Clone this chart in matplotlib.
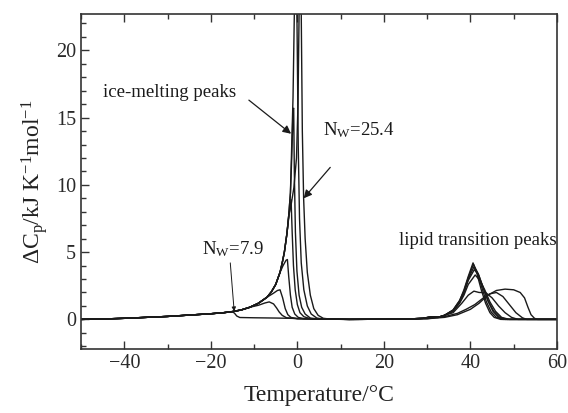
import matplotlib
matplotlib.use("Agg")
import matplotlib.pyplot as plt
from matplotlib.ticker import MultipleLocator

plt.rcParams['font.family'] = ['Liberation Serif', 'DejaVu Serif']
plt.rcParams['mathtext.fontset'] = 'custom'
plt.rcParams['mathtext.rm'] = 'Liberation Serif'
plt.rcParams['mathtext.it'] = 'Liberation Serif:italic'

# ---- shared low-temperature envelope (ice pre-melting tail) ----
env_T = [-50, -45, -40, -35, -30, -25, -20, -17, -15, -13, -11, -9, -7, -6, -5, -4, -3.5, -3, -2.4, -2, -1.6, -1.3, -1.0]
env_Cp = [0, 0.03, 0.08, 0.15, 0.22, 0.32, 0.42, 0.5, 0.58, 0.7, 0.9, 1.2, 1.65, 2.05, 2.6, 3.5, 4.2, 5.0, 6.4, 7.7, 9.4, 12.0, 15.6]

# ---- ice-melting branch of each sample (increasing water content) ----
# point index where each curve leaves the envelope
ice_split = [9, 11, 13, 16, 19, 23, 21, 20]
ice1_T = [-14.5, -14, -13.3, -10, -5, 0, 5, 10]
ice1_Cp = [0.45, 0.25, 0.14, 0.12, 0.1, 0.07, 0.03, 0]
ice2_T = [-9, -7.5, -6.5, -5.5, -4.8, -4.2, -3.5, -2.5, 0, 5, 10]
ice2_Cp = [1.05, 1.22, 1.3, 1.15, 0.85, 0.55, 0.3, 0.12, 0.05, 0.02, 0]
ice3_T = [-5.5, -4.6, -4.0, -3.4, -2.8, -2.2, -1.5, 0, 10]
ice3_Cp = [1.95, 2.15, 2.2, 1.6, 0.8, 0.35, 0.15, 0.05, 0]
ice4_T = [-3.3, -2.6, -2.3, -2.0, -1.6, -1.2, -0.6, 0.2, 1.5, 10]
ice4_Cp = [4.0, 4.4, 4.45, 3.2, 1.8, 0.9, 0.4, 0.15, 0.05, 0]
ice5_T = [-1.9, -1.45, -1.2, -0.9, -0.5, 0, 0.6, 1.5, 3, 10]
ice5_Cp = [7.8, 8.9, 6.5, 4.0, 2.2, 1.1, 0.5, 0.2, 0.05, 0]
ice6_T = [-0.85, -0.7, -0.45, -0.1, 0.4, 1.0, 1.8, 3, 5, 10]
ice6_Cp = [15.7, 11, 6.5, 3.6, 1.8, 0.9, 0.4, 0.1, 0.02, 0]
ice7_T = [-1.0, -0.7, -0.4, -0.1, 0.2, 0.5, 0.9, 1.5, 2.3, 3.2, 4.5, 6, 10]
ice7_Cp = [16.5, 22.7, 30, 22.7, 13, 7.5, 4.2, 2.2, 1.0, 0.4, 0.1, 0.02, 0]
ice8_T = [-1.4, -0.8, -0.2, 0.15, 0.4, 0.65, 0.9, 1.15, 1.45, 1.8, 2.3, 3, 3.8, 4.8, 6, 8, 10]
ice8_Cp = [8.6, 9.8, 12.0, 16.0, 22.7, 32, 22.7, 14, 9, 6, 3.5, 1.8, 0.8, 0.3, 0.08, 0.01, 0]

# ---- lipid transition branch of each sample ----
lip1_T = [12, 25, 30, 34, 37, 40, 42, 44, 46, 48, 50, 51.5, 52.5, 53.3, 54, 54.8, 55.5, 60]
lip1_Cp = [0, 0.02, 0.05, 0.15, 0.35, 0.75, 1.2, 1.8, 2.15, 2.25, 2.2, 2.0, 1.6, 0.9, 0.35, 0.08, 0, 0]
lip2_T = [12, 25, 30, 34, 37, 39, 41, 43, 44.5, 46, 47.5, 49, 50.5, 52, 53, 60]
lip2_Cp = [0, 0.02, 0.05, 0.2, 0.45, 0.75, 1.1, 1.6, 1.9, 2.0, 1.7, 1.1, 0.5, 0.12, 0, 0]
lip3_T = [12, 25, 29, 31, 33, 36, 38, 39.5, 40.8, 42, 43.5, 45, 46.5, 48, 49.5, 51, 60]
lip3_Cp = [0, 0.02, 0.08, 0.15, 0.2, 0.5, 1.2, 1.8, 2.1, 2.0, 2.0, 1.6, 1.0, 0.5, 0.15, 0, 0]
lip4_T = [12, 25, 29, 31, 32.5, 34, 36, 37.5, 38.5, 39.5, 41.1, 42.2, 43.3, 44.5, 45.8, 47.2, 49, 60]
lip4_Cp = [0, 0.02, 0.08, 0.18, 0.15, 0.3, 0.6, 1.2, 1.8, 2.6, 3.3, 2.9, 2.2, 1.3, 0.6, 0.15, 0, 0]
lip5_T = [12, 25, 29, 31, 32.5, 34, 36, 37.5, 38.5, 39.5, 40.9, 41.9, 43.0, 44.2, 45.4, 46.8, 48.5, 60]
lip5_Cp = [0, 0.02, 0.08, 0.2, 0.15, 0.3, 0.65, 1.3, 2.0, 2.9, 3.7, 3.3, 2.3, 1.3, 0.6, 0.15, 0, 0]
lip6_T = [12, 25, 29, 31, 32.5, 34, 36, 37.5, 38.5, 39.5, 40.8, 41.8, 42.9, 44.0, 45.2, 46.5, 48, 60]
lip6_Cp = [0, 0.02, 0.08, 0.18, 0.15, 0.3, 0.65, 1.3, 2.0, 3.0, 3.9, 3.4, 2.4, 1.4, 0.6, 0.15, 0, 0]
lip7_T = [12, 25, 29, 31, 32.5, 34, 36, 37.5, 38.5, 39.5, 40.7, 41.6, 42.6, 43.7, 44.8, 46, 47.5, 60]
lip7_Cp = [0, 0.02, 0.08, 0.2, 0.15, 0.3, 0.7, 1.4, 2.1, 3.1, 4.1, 3.5, 2.4, 1.3, 0.55, 0.15, 0, 0]
lip8_T = [12, 25, 29, 31, 32.5, 34, 36, 37.5, 38.5, 39.5, 40.6, 41.5, 42.5, 43.5, 44.5, 45.5, 47, 60]
lip8_Cp = [0, 0.02, 0.08, 0.2, 0.15, 0.3, 0.7, 1.4, 2.2, 3.2, 4.2, 3.4, 2.2, 1.2, 0.5, 0.15, 0, 0]

ice_T = [ice1_T, ice2_T, ice3_T, ice4_T, ice5_T, ice6_T, ice7_T, ice8_T]
ice_Cp = [ice1_Cp, ice2_Cp, ice3_Cp, ice4_Cp, ice5_Cp, ice6_Cp, ice7_Cp, ice8_Cp]
lip_T = [lip1_T, lip2_T, lip3_T, lip4_T, lip5_T, lip6_T, lip7_T, lip8_T]
lip_Cp = [lip1_Cp, lip2_Cp, lip3_Cp, lip4_Cp, lip5_Cp, lip6_Cp, lip7_Cp, lip8_Cp]

fig = plt.figure(figsize=(5.68, 4.13), dpi=100)
ax = fig.add_axes([0.1426, 0.155, 0.838, 0.811])

for k in range(8):
    n = ice_split[k]
    T = env_T[:n] + ice_T[k][:-1] + lip_T[k]
    Cp = env_Cp[:n] + ice_Cp[k][:-1] + lip_Cp[k]
    ax.plot(T, Cp, color='#1a1a1a', lw=1.0)

ax.set_xlim(-50, 60)
ax.set_ylim(-2.2, 22.7)
ax.xaxis.set_major_locator(MultipleLocator(20))
ax.xaxis.set_minor_locator(MultipleLocator(10))
ax.yaxis.set_major_locator(MultipleLocator(5))
ax.yaxis.set_minor_locator(MultipleLocator(1))
ax.tick_params(which='both', direction='in', top=True, right=False, labelsize=14.5, width=1.0,
               colors='#333333', labelcolor='#2a2a2a')
ax.tick_params(which='major', length=6)
ax.tick_params(which='minor', length=3.5)
for s in ax.spines.values():
    s.set_linewidth(1.2)
    s.set_color('#333333')

ax.set_xlabel('Temperature/°C', fontsize=17, labelpad=9, color='#222222')
ax.set_ylabel(r'$\Delta\mathrm{C}_{\mathrm{p}}$/kJ K$^{-1}$mol$^{-1}$', fontsize=17, labelpad=4, color='#222222')

arrow_kw = dict(arrowstyle='-|>', color='#1a1a1a', lw=0.9, mutation_scale=12, shrinkA=0, shrinkB=0)

ax.text(-29.6, 16.9, 'ice-melting peaks', fontsize=13.5, ha='center', va='center', color='#1a1a1a')
ax.annotate('', xy=(-1.45, 13.8), xytext=(-11.2, 16.3), arrowprops=arrow_kw)

ax.text(14.3, 14.1, r'N$_{\mathrm{W}}$=25.4', fontsize=13.5, ha='center', va='center', color='#1a1a1a')
ax.annotate('', xy=(1.45, 9.0), xytext=(7.6, 11.3), arrowprops=arrow_kw)

ax.text(-15.0, 5.2, r'N$_{\mathrm{W}}$=7.9', fontsize=13.5, ha='center', va='center', color='#1a1a1a')
ax.annotate('', xy=(-14.6, 0.6), xytext=(-15.5, 4.2),
            arrowprops=dict(arrowstyle='-|>', color='#1a1a1a', lw=0.7, mutation_scale=6, shrinkA=0, shrinkB=0))

ax.text(41.8, 5.9, 'lipid transition peaks', fontsize=13.5, ha='center', va='center', color='#1a1a1a')

fig.savefig('out.png', dpi=100)
